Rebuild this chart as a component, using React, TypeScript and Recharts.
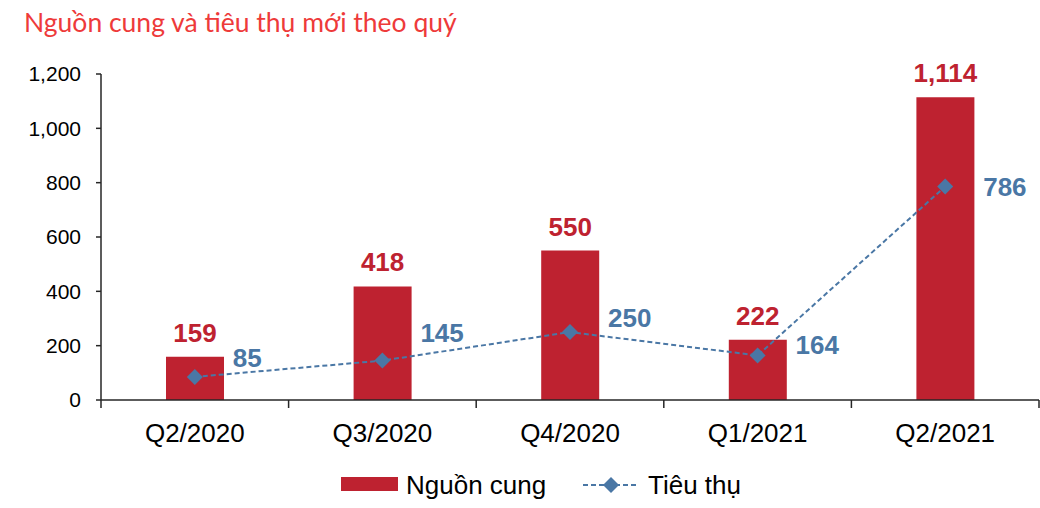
import React from 'react';
import { ComposedChart, Bar, Line, XAxis, YAxis, LabelList } from 'recharts';

const quarters = ['Q2/2020', 'Q3/2020', 'Q4/2020', 'Q1/2021', 'Q2/2021'];
const supply = [159, 418, 550, 222, 1114];
const absorption = [85, 145, 250, 164, 786];
const yTicks = [0, 200, 400, 600, 800, 1000, 1200];

// the line labels were nudged by hand in the original, so keep the vertical offsets
const absorptionLabelDy = [-19, -28, -14, -10, 1];

const RED = '#BE2230';
const BLUE = '#4A77A5';
const TITLE_RED = '#EE3A3A';
const AXIS = '#262626';
const FONT = '"Liberation Sans", Arial, sans-serif';

const W = 1040;
const H = 508;
const PLOT_LEFT = 101;
const PLOT_RIGHT = 1039;
const BAND = (PLOT_RIGHT - PLOT_LEFT) / quarters.length;

const data = quarters.map((q, i) => ({ quarter: q, supply: supply[i], absorption: absorption[i] }));

const fmt = (v: number) => v.toLocaleString('en-US');

function diamond(cx: number, cy: number, r: number) {
  return `M${cx},${cy - r}L${cx + r},${cy}L${cx},${cy + r}L${cx - r},${cy}Z`;
}

function BarValue(props: any) {
  const { x, y, width, value } = props;
  return (
    <text x={x + width / 2} y={y - 15} textAnchor="middle" fill={RED} fontSize={26} fontWeight="bold" fontFamily={FONT}>
      {fmt(value)}
    </text>
  );
}

function LineValue(props: any) {
  const { x, y, value, index } = props;
  return (
    <text x={x + 38} y={y + absorptionLabelDy[index] + 9} textAnchor="start" fill={BLUE} fontSize={26} fontWeight="bold" fontFamily={FONT}>
      {fmt(value)}
    </text>
  );
}

function DiamondDot(props: any) {
  const { cx, cy, index } = props;
  return <path key={`d-${index}`} d={diamond(cx, cy, 8)} fill={BLUE} />;
}

// Excel puts the x tick marks between categories, so draw them at the band edges
function QuarterTick(props: any) {
  const { x, y, payload, index } = props;
  const left = x - BAND / 2;
  const right = x + BAND / 2;
  return (
    <g>
      <line x1={left} y1={y - 23} x2={left} y2={y - 15} stroke={AXIS} strokeWidth={1.5} />
      {index === quarters.length - 1 && (
        <line x1={right} y1={y - 23} x2={right} y2={y - 15} stroke={AXIS} strokeWidth={1.5} />
      )}
      <text x={x} y={y + 19} textAnchor="middle" fill="#000" fontSize={26} fontFamily={FONT}>
        {payload.value}
      </text>
    </g>
  );
}

export default function App() {
  return (
    <div style={{ position: 'absolute', left: 0, top: 0, width: W, height: H, background: '#fff', fontFamily: FONT }}>
      <div
        style={{
          position: 'absolute',
          left: 24,
          top: 8.5,
          fontFamily: 'Lato, sans-serif',
          fontSize: 26.5,
          lineHeight: '26.5px',
          color: TITLE_RED,
          whiteSpace: 'nowrap',
        }}
      >
        Nguồn cung và tiêu thụ mới theo quý
      </div>

      <ComposedChart width={W} height={H} data={data} margin={{ top: 74, right: W - PLOT_RIGHT, bottom: 60, left: 0 }}>
        <XAxis
          dataKey="quarter"
          axisLine={{ stroke: AXIS, strokeWidth: 1.5 }}
          tickLine={false}
          tickSize={0}
          tickMargin={23}
          tick={QuarterTick}
          height={48}
        />
        <YAxis
          domain={[0, 1200]}
          ticks={yTicks}
          tickFormatter={fmt}
          width={PLOT_LEFT}
          tickSize={5}
          tickMargin={15}
          axisLine={{ stroke: AXIS, strokeWidth: 1.5 }}
          tickLine={{ stroke: AXIS, strokeWidth: 1.5 }}
          tick={{ fill: '#000', fontSize: 21, fontFamily: FONT }}
        />
        <Bar dataKey="supply" fill={RED} barSize={58} isAnimationActive={false}>
          <LabelList dataKey="supply" content={BarValue} />
        </Bar>
        <Line
          dataKey="absorption"
          stroke={BLUE}
          strokeWidth={2}
          strokeDasharray="5 3"
          dot={DiamondDot}
          activeDot={false}
          isAnimationActive={false}
        >
          <LabelList dataKey="absorption" content={LineValue} />
        </Line>
      </ComposedChart>

      {/* legend */}
      <div style={{ position: 'absolute', left: 341, top: 477, width: 57, height: 14, background: RED }} />
      <div style={{ position: 'absolute', left: 406, top: 470, fontSize: 26, lineHeight: '30px', color: '#000' }}>Nguồn cung</div>
      <svg style={{ position: 'absolute', left: 580, top: 475 }} width={62} height={20}>
        <line x1={3} y1={10} x2={59} y2={10} stroke={BLUE} strokeWidth={2} strokeDasharray="5 3" />
        <path d={diamond(31, 10, 8)} fill={BLUE} />
      </svg>
      <div style={{ position: 'absolute', left: 648, top: 470, fontSize: 26, lineHeight: '30px', color: '#000' }}>Tiêu thụ</div>
    </div>
  );
}
